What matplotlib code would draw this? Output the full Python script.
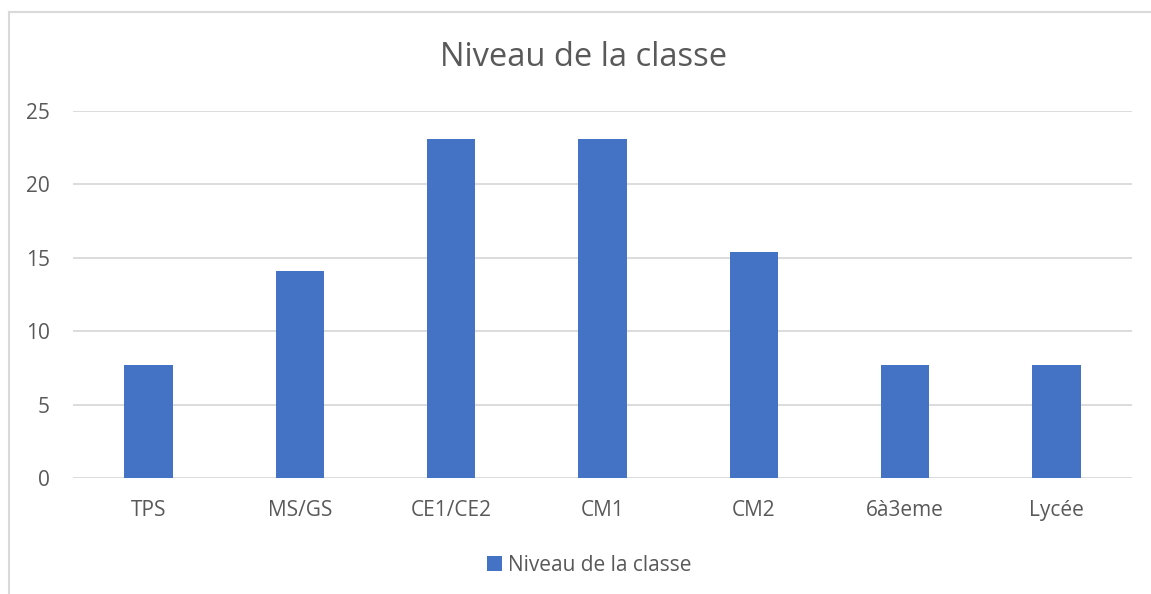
import matplotlib
matplotlib.use("Agg")
import matplotlib.pyplot as plt
from matplotlib.lines import Line2D
from matplotlib.patches import Rectangle

categories = ["TPS", "MS/GS", "CE1/CE2", "CM1", "CM2", "6à3eme", "Lycée"]
values = [7.7, 14.1, 23.1, 23.1, 15.4, 7.7, 7.7]
series_name = "Niveau de la classe"
yticks = [0, 5, 10, 15, 20, 25]

plt.rcParams['font.family'] = ['Open Sans', 'DejaVu Sans']
text_color = "#595959"
grid_color = "#d9d9d9"
bar_color = "#4472c4"

W, H = 1151, 594
fig = plt.figure(figsize=(W/100, H/100), dpi=100)
ax = fig.add_axes([73/W, (H-478)/H, (1132-73)/W, (478-111)/H])

x = list(range(len(categories)))
bars = ax.bar(x, values, width=0.32, color=bar_color, zorder=3, label=series_name)
ax.set_xlim(-0.5, len(categories) - 0.5)
ax.set_ylim(0, 25)
ax.set_yticks(yticks)
ax.set_xticks(x)
ax.set_xticklabels(categories)
ax.tick_params(axis='both', length=0, colors=text_color, labelsize=15)
ax.tick_params(axis='x', pad=16)
ax.tick_params(axis='y', pad=16.5)
ax.grid(axis='y', color=grid_color, linewidth=1.3, zorder=0)
for s in ax.spines.values():
    s.set_visible(False)

fig.text(584/W, 1 - 66.5/H, series_name, ha='center', va='baseline',
         fontsize=23.5, color=text_color)

# legend (drawn in figure pixels)
fig.add_artist(Rectangle((487/W, 1 - 571/H), 15/W, 15/H, transform=fig.transFigure,
                         facecolor=bar_color, edgecolor='none'))
fig.text(508/W, 1 - 571/H, series_name, ha='left', va='baseline',
         fontsize=15, color=text_color)

# chart frame (partially visible)
fig.add_artist(Line2D([9/W, 9/W], [0, 1 - 12/H], color=grid_color, linewidth=1.5))
fig.add_artist(Line2D([9/W, 1], [1 - 12/H, 1 - 12/H], color=grid_color, linewidth=1.5))

fig.savefig("out.png", dpi=100, facecolor="white")
